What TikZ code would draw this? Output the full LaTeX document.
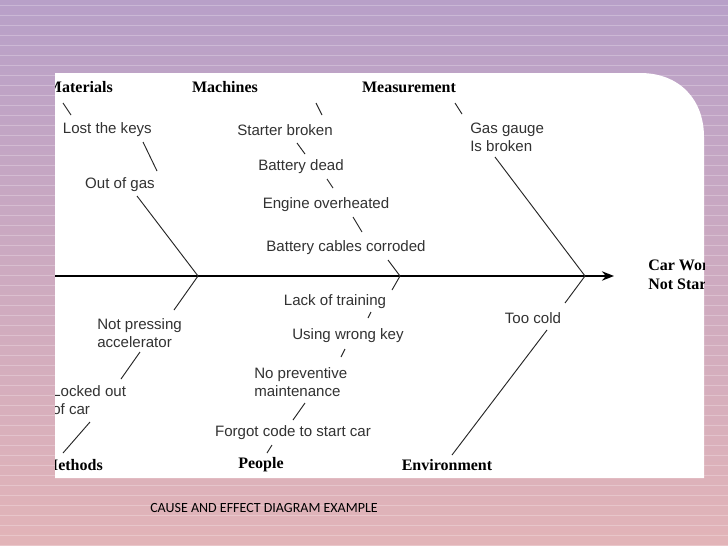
\documentclass[tikz,border=0pt]{standalone}
\usepackage{fontspec}
\setmainfont{Liberation Sans}
\newfontfamily\serifb{Liberation Serif}
\newfontfamily\calib{Carlito}
\usetikzlibrary{arrows.meta}
\definecolor{bgtop}{RGB}{184,160,200}
\definecolor{bgbot}{RGB}{226,180,184}
\definecolor{txt}{RGB}{50,50,50}
\begin{document}
\begin{tikzpicture}[x=0.75pt,y=-0.75pt,
  lab/.style={font=\fontsize{11.3}{13.5}\selectfont, text=txt, inner sep=0pt},
  head/.style={font=\serifb\bfseries\fontsize{12}{14}\selectfont, inner sep=0pt},
  bone/.style={line width=0.7pt, draw=black!85}]
\useasboundingbox (0,0) rectangle (728,546);
\shade[top color=bgtop, bottom color=bgbot] (0,0) rectangle (728,546);
\foreach \y in {5,15,...,545} \draw[white, opacity=0.25, line width=0.4pt] (0,\y) -- (728,\y);
\begin{scope}
\clip (55,73) -- (640,73) .. controls (680,73) and (704,100) .. (704,137) -- (704,478) -- (55,478) -- cycle;
\fill[white] (0,0) rectangle (728,546);
% spine
\coordinate (s0) at (40,276);
\coordinate (s1) at (614,276);
\draw[line width=1.5pt, -{Stealth[length=9pt,width=7pt]}] (s0) -- (s1);
% headings
\node[head, anchor=east] (mat) at (113,87) {Materials};
\node[head] (mac) at (225,87) {Machines};
\node[head] (mea) at (409,87) {Measurement};
\node[head, anchor=east] (met) at (103,465) {Methods};
\node[head] (peo) at (261,465) {People};
\node[head] (env) at (447,465) {Environment};
\node[head, anchor=west, align=left] (eff) at (648,275) {Car Won't\\Not Start};
% labels
\node[lab, anchor=east] (lk) at (152,130) {Lost the keys};
\node[lab] (og) at (120,185) {Out of gas};
\node[lab] (sb) at (285,130) {Starter broken};
\node[lab] (bd) at (301,167) {Battery dead};
\node[lab] (eo) at (326,205) {Engine overheated};
\node[lab] (bc) at (346,248) {Battery cables corroded};
\node[lab, anchor=west, align=left] (gg) at (470,137) {Gas gauge\\Is broken};
\node[lab] (lt) at (335,302) {Lack of training};
\node[lab] (uw) at (348,336) {Using wrong key};
\node[lab, anchor=west, align=left] (np) at (254,382) {No preventive\\maintenance};
\node[lab] (fc) at (293,433) {Forgot code to start car};
\node[lab, anchor=west, align=left] (na) at (97,333) {Not pressing\\accelerator};
\node[lab, anchor=west, align=left] (lo) at (52,400) {Locked out\\of car};
\node[lab] (tc) at (533,318) {Too cold};
% bone coordinates
\coordinate (jm) at (198,276);
\coordinate (jc) at (400,276);
\coordinate (je) at (585,276);
% materials
\draw[bone] (63,103) -- (71,115);
\draw[bone] (143,142) -- (157,171);
\draw[bone] (137,196) -- (jm);
% machines
\draw[bone] (316,103) -- (322,115);
\draw[bone] (297,143) -- (305,154);
\draw[bone] (327,179) -- (333,188);
\draw[bone] (353,217) -- (362,232);
\draw[bone] (388,260) -- (jc);
% measurement
\draw[bone] (455,103) -- (462,114);
\draw[bone] (495,157) -- (je);
% methods
\draw[bone] (jm) -- (174,310);
\draw[bone] (140,352) -- (121,379);
\draw[bone] (90,422) -- (63,453);
% people
\draw[bone] (jc) -- (392,290);
\draw[bone] (371,312) -- (368,318);
\draw[bone] (345,349) -- (341,357);
\draw[bone] (305,403) -- (293,420);
\draw[bone] (272,445) -- (267,453);
% environment
\draw[bone] (je) -- (565,303);
\draw[bone] (547,330) -- (452,455);
\end{scope}
\node[font=\calib\fontsize{10.5}{12}\selectfont, anchor=west, inner sep=0pt] (cap) at (150,508) {CAUSE AND EFFECT DIAGRAM EXAMPLE};
\end{tikzpicture}
\end{document}
